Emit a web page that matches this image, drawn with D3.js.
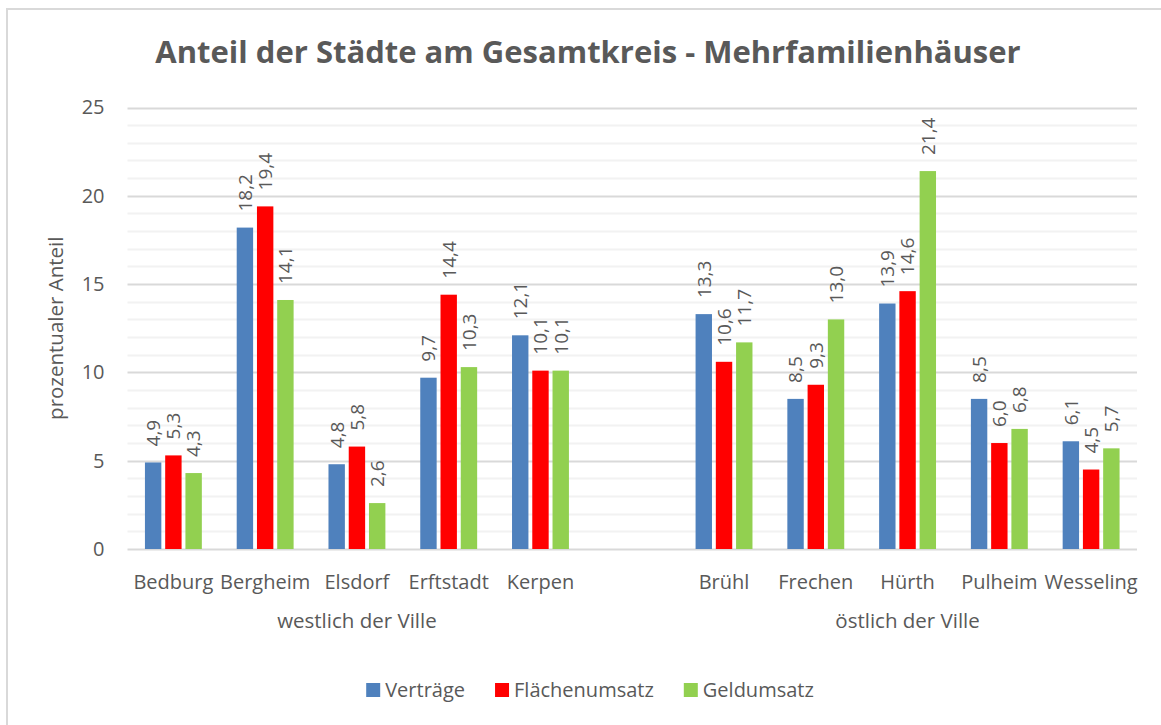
<!DOCTYPE html>
<html>
<head>
<meta charset="utf-8">
<script src="https://cdn.jsdelivr.net/npm/d3@7"></script>
<style>
  body { margin: 0; background: #fff; }
  text { font-family: "Open Sans", sans-serif; fill: #595959; }
</style>
</head>
<body>
<div id="chart"></div>
<script>
var width = 1161
var height = 725

// categories (empty slot between the two groups)
var cities = ["Bedburg", "Bergheim", "Elsdorf", "Erftstadt", "Kerpen", "",
              "Brühl", "Frechen", "Hürth", "Pulheim", "Wesseling"]
var groups = [
    { name: "westlich der Ville", cities: ["Bedburg", "Bergheim", "Elsdorf", "Erftstadt", "Kerpen"] },
    { name: "östlich der Ville", cities: ["Brühl", "Frechen", "Hürth", "Pulheim", "Wesseling"] }
]

var seriesNames = ["Verträge", "Flächenumsatz", "Geldumsatz"]
var seriesColors = ["#4f81bd", "#ff0000", "#92d050"]

var vertraege = [4.9, 18.2, 4.8, 9.7, 12.1, null, 13.3, 8.5, 13.9, 8.5, 6.1]
var flaechenumsatz = [5.3, 19.4, 5.8, 14.4, 10.1, null, 10.6, 9.3, 14.6, 6.0, 4.5]
var geldumsatz = [4.3, 14.1, 2.6, 10.3, 10.1, null, 11.7, 13.0, 21.4, 6.8, 5.7]

var yTicks = [0, 5, 10, 15, 20, 25]

var allSeries = [vertraege, flaechenumsatz, geldumsatz]

var plot = { left: 127.5, right: 1137, top: 107.5, bottom: 549 }

var svg = d3.select("#chart")
    .append("svg")
    .attr("width", width)
    .attr("height", height)

// chart border
svg.append("rect")
    .attr("x", 7)
    .attr("y", 9)
    .attr("width", width + 10)
    .attr("height", height + 10)
    .attr("fill", "#fff")
    .attr("stroke", "#d9d9d9")
    .attr("stroke-width", 2)

var x0 = d3.scaleBand()
    .domain(d3.range(cities.length))
    .range([plot.left, plot.right])
    .padding(0)

var groupSpan = x0.bandwidth() * 0.62
var x1 = d3.scaleBand()
    .domain(d3.range(seriesNames.length))
    .range([-groupSpan / 2, groupSpan / 2])
    .paddingInner(0.19)

var y = d3.scaleLinear()
    .domain([0, 25])
    .range([plot.bottom, plot.top])

// minor gridlines
svg.append("g")
    .selectAll("line")
    .data(d3.range(1, 26).filter(function(d) { return d % 5 != 0; }))
    .enter()
    .append("line")
    .attr("x1", plot.left)
    .attr("x2", plot.right)
    .attr("y1", function(d) { return Math.round(y(d)) + 0.5; })
    .attr("y2", function(d) { return Math.round(y(d)) + 0.5; })
    .attr("stroke", "#f2f2f2")
    .attr("stroke-width", 2)

// major gridlines
svg.append("g")
    .selectAll("line")
    .data(yTicks)
    .enter()
    .append("line")
    .attr("x1", plot.left)
    .attr("x2", plot.right)
    .attr("y1", function(d) { return Math.round(y(d)) + 0.5; })
    .attr("y2", function(d) { return Math.round(y(d)) + 0.5; })
    .attr("stroke", "#d9d9d9")
    .attr("stroke-width", 2)

// y axis labels
var yAxis = svg.append("g")
    .attr("transform", "translate(" + plot.left + ",0)")
    .call(d3.axisLeft(y).tickValues(yTicks).tickSize(0).tickPadding(23))
yAxis.select(".domain").remove()
yAxis.attr("font-family", null).attr("font-size", null)
yAxis.selectAll("text")
    .attr("font-size", 20)
    .style("fill", "#595959")

// bars
var bars = []
allSeries.forEach(function(vals, s) {
    vals.forEach(function(v, i) {
        if (v != null) bars.push({ s: s, i: i, v: v });
    });
});

svg.append("g")
    .selectAll("rect")
    .data(bars)
    .enter()
    .append("rect")
    .attr("x", function(d) { return x0(d.i) + x0.bandwidth() / 2 + x1(d.s); })
    .attr("y", function(d) { return y(d.v); })
    .attr("width", x1.bandwidth())
    .attr("height", function(d) { return y(0) - y(d.v); })
    .attr("fill", function(d) { return seriesColors[d.s]; })

// value labels, rotated
var fmt = function(v) { return d3.format(".1f")(v).replace(".", ","); }
svg.append("g")
    .selectAll("text")
    .data(bars)
    .enter()
    .append("text")
    .attr("transform", function(d) {
        var cx = x0(d.i) + x0.bandwidth() / 2 + x1(d.s) + x1.bandwidth() / 2;
        return "translate(" + cx + "," + (y(d.v) - 16) + ") rotate(-90)";
    })
    .attr("dy", "0.36em")
    .attr("font-size", 19)
    .text(function(d) { return fmt(d.v); })

// category labels
svg.append("g")
    .selectAll("text")
    .data(cities)
    .enter()
    .append("text")
    .attr("x", function(d, i) { return x0(i) + x0.bandwidth() / 2; })
    .attr("y", 589)
    .attr("text-anchor", "middle")
    .attr("font-size", 20)
    .text(function(d) { return d; })

// group labels
svg.append("g")
    .selectAll("text")
    .data(groups)
    .enter()
    .append("text")
    .attr("x", function(g) {
        return d3.mean(g.cities, function(c) { return x0(cities.indexOf(c)) + x0.bandwidth() / 2; });
    })
    .attr("y", 628)
    .attr("text-anchor", "middle")
    .attr("font-size", 20.5)
    .text(function(g) { return g.name; })

// y axis title
svg.append("text")
    .attr("transform", "translate(63," + ((plot.top + plot.bottom) / 2) + ") rotate(-90)")
    .attr("text-anchor", "middle")
    .attr("font-size", 20.5)
    .text("prozentualer Anteil")

// title
svg.append("text")
    .attr("x", 588)
    .attr("y", 63)
    .attr("text-anchor", "middle")
    .attr("font-size", 31)
    .attr("font-weight", "bold")
    .text("Anteil der Städte am Gesamtkreis - Mehrfamilienhäuser")

// legend
var legend = svg.append("g")
var lx = 0
var items = legend.selectAll("g")
    .data(seriesNames)
    .enter()
    .append("g")
items.append("rect")
    .attr("width", 14)
    .attr("height", 14)
    .attr("y", -14)
    .attr("fill", function(d, i) { return seriesColors[i]; })
items.append("text")
    .attr("x", 19)
    .attr("font-size", 20)
    .attr("y", 0)
    .text(function(d) { return d; })
items.each(function() {
    var w = d3.select(this).select("text").node().getComputedTextLength();
    d3.select(this).attr("transform", "translate(" + lx + ",0)");
    lx += 19 + w + 30;
});
lx -= 30;
legend.attr("transform", "translate(" + (590 - lx / 2) + ",697)")
</script>
</body>
</html>
